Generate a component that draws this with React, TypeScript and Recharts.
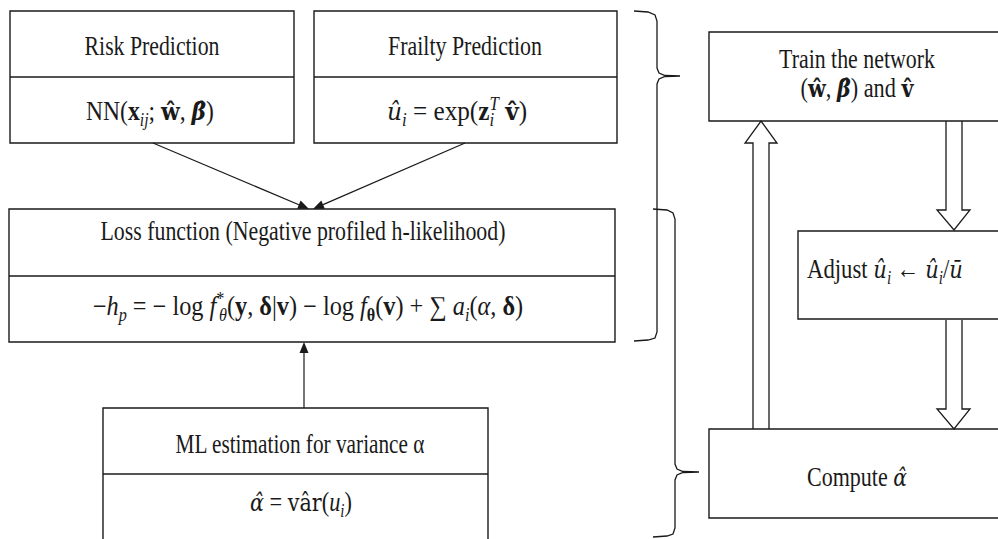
import React, { useLayoutEffect, useRef, useState } from 'react';
import {
  ComposedChart,
  Line,
  XAxis,
  YAxis,
  ReferenceArea,
  ReferenceLine,
  ReferenceDot,
} from 'recharts';

// diagram units = pixels of the 998 x 539 figure, y grows downward
const boxes = [
  { id: 'risk', x1: 10, x2: 294, y1: 11, y2: 143 },
  { id: 'frailty', x1: 314, x2: 617, y1: 11, y2: 143 },
  { id: 'loss', x1: 9, x2: 615, y1: 209, y2: 342 },
  { id: 'ml', x1: 103, x2: 488, y1: 408, y2: 560 },
  { id: 'train', x1: 709, x2: 1010, y1: 32, y2: 121 },
  { id: 'adjust', x1: 798, x2: 1010, y1: 231, y2: 319 },
  { id: 'compute', x1: 709, x2: 1010, y1: 429, y2: 518 },
];

const dividers = [
  { x1: 10, x2: 294, y: 77 },
  { x1: 314, x2: 617, y: 77 },
  { x1: 9, x2: 615, y: 276 },
  { x1: 103, x2: 488, y: 474 },
];

const pointerArrows = [
  { from: { x: 153, y: 143 }, to: { x: 309, y: 209 } },
  { from: { x: 465, y: 143 }, to: { x: 313, y: 209 } },
  { from: { x: 304, y: 408 }, to: { x: 304, y: 342 } },
];

const hollowUp = [
  { x: 753, y: 429 }, { x: 753, y: 143 }, { x: 745, y: 143 }, { x: 761, y: 121 },
  { x: 777, y: 143 }, { x: 769, y: 143 }, { x: 769, y: 429 },
];
const hollowDownTop = [
  { x: 946, y: 121 }, { x: 946, y: 210 }, { x: 937, y: 210 }, { x: 954, y: 230 },
  { x: 970, y: 210 }, { x: 962, y: 210 }, { x: 962, y: 121 },
];
const hollowDownBottom = [
  { x: 946, y: 320 }, { x: 946, y: 409 }, { x: 937, y: 409 }, { x: 954, y: 429 },
  { x: 970, y: 409 }, { x: 962, y: 409 }, { x: 962, y: 320 },
];

const braceTop = [
  { x: 634, y: 11 }, { x: 648, y: 12 }, { x: 655, y: 15 }, { x: 657, y: 21 },
  { x: 657, y: 68 }, { x: 659, y: 73 }, { x: 665, y: 75.5 }, { x: 680, y: 76 },
  { x: 665, y: 76.5 }, { x: 659, y: 79 }, { x: 657, y: 84 },
  { x: 657, y: 332 }, { x: 655, y: 338 }, { x: 648, y: 340 }, { x: 634, y: 341 },
];
const braceBottom = [
  { x: 653, y: 209 }, { x: 667, y: 210 }, { x: 673, y: 213 }, { x: 675, y: 219 },
  { x: 675, y: 464 }, { x: 677, y: 469 }, { x: 683, y: 471.5 }, { x: 699, y: 472 },
  { x: 683, y: 472.5 }, { x: 677, y: 475 }, { x: 675, y: 480 },
  { x: 675, y: 528 }, { x: 673, y: 534 }, { x: 667, y: 536 }, { x: 653, y: 537 },
];

// m = math glyph with an accent, drawn in a font with good mark placement
type Part = { t: string; b?: boolean; i?: boolean; sub?: boolean; sup?: boolean; dx?: number; m?: boolean };

const labelTexts: Part[][] = [
  [{ t: 'Risk Prediction' }],
  [{ t: 'Frailty Prediction' }],
  [{ t: 'NN(' }, { t: 'x', b: true }, { t: 'ij', i: true, sub: true }, { t: '; ' }, { t: 'w\u0302', b: true, m: true }, { t: ', ' }, { t: 'β\u0302', b: true, i: true, m: true }, { t: ')' }],
  [{ t: 'u\u0302', i: true, m: true }, { t: 'i', i: true, sub: true }, { t: ' = exp(' }, { t: 'z', b: true }, { t: 'i', i: true, sub: true }, { t: 'T', i: true, sup: true, dx: -5 }, { t: ' ' }, { t: 'v\u0302', b: true, m: true }, { t: ')' }],
  [{ t: 'Loss function (Negative profiled h-likelihood)' }],
  [
    { t: '\u2212' }, { t: 'h', i: true }, { t: 'p', i: true, sub: true }, { t: ' = \u2212 log ' }, { t: 'f', i: true },
    { t: '*', sup: true }, { t: 'θ', i: true, sub: true, dx: -6 }, { t: '(' }, { t: 'y', b: true }, { t: ', ' },
    { t: 'δ', b: true }, { t: '|' }, { t: 'v', b: true }, { t: ') \u2212 log ' }, { t: 'f', i: true },
    { t: 'θ', b: true, sub: true }, { t: '(' }, { t: 'v', b: true }, { t: ') + \u2211 ' }, { t: 'a', i: true },
    { t: 'i', i: true, sub: true }, { t: '(' }, { t: 'α', i: true }, { t: ', ' }, { t: 'δ', b: true }, { t: ')' },
  ],
  [{ t: 'ML estimation for variance α' }],
  [{ t: 'α\u0302', i: true, m: true }, { t: ' = ' }, { t: 'va\u0302r', m: true }, { t: '(' }, { t: 'u', i: true }, { t: 'i', i: true, sub: true }, { t: ')' }],
  [{ t: 'Train the network' }],
  [{ t: '(' }, { t: 'w\u0302', b: true, m: true }, { t: ', ' }, { t: 'β\u0302', b: true, i: true, m: true }, { t: ') and ' }, { t: 'v\u0302', b: true, m: true }],
  [{ t: 'Adjust ' }, { t: 'u\u0302', i: true, m: true }, { t: 'i', i: true, sub: true }, { t: ' \u2190 ' }, { t: 'u\u0302', i: true, m: true }, { t: 'i', i: true, sub: true }, { t: '/' }, { t: 'u\u0304', i: true, m: true }],
  [{ t: 'Compute ' }, { t: 'α\u0302', i: true, m: true }],
];

const labelPlaces = [
  { x: 152, y: 55, w: 135, anchor: 'middle' },
  { x: 465, y: 55, w: 154, anchor: 'middle' },
  { x: 150, y: 120, w: 128, anchor: 'middle' },
  { x: 457, y: 120, w: 145, anchor: 'middle' },
  { x: 303, y: 240, w: 405, anchor: 'middle' },
  { x: 308, y: 315, w: 436, anchor: 'middle' },
  { x: 300, y: 453, w: 249, anchor: 'middle' },
  { x: 301, y: 511, w: 102, anchor: 'middle' },
  { x: 857, y: 68, w: 156, anchor: 'middle' },
  { x: 857, y: 97, w: 113, anchor: 'middle' },
  { x: 807, y: 278, w: 156, anchor: 'start' },
  { x: 857, y: 486, w: 100, anchor: 'middle' },
];

const INK = '#1a1a1a';
const SERIF = "'Liberation Serif', 'DejaVu Serif', serif";
const MATH = "'DejaVu Serif', 'Liberation Serif', serif";

function ArrowShape(props: any) {
  const { x1, y1, x2, y2 } = props;
  const ang = Math.atan2(y2 - y1, x2 - x1);
  const L = 11;
  const W = 4.5;
  const bx = x2 - L * Math.cos(ang);
  const by = y2 - L * Math.sin(ang);
  const px = -Math.sin(ang) * W;
  const py = Math.cos(ang) * W;
  return (
    <g>
      <line x1={x1} y1={y1} x2={bx} y2={by} stroke={INK} strokeWidth={1.2} />
      <polygon points={`${x2},${y2} ${bx + px},${by + py} ${bx - px},${by - py}`} fill={INK} />
    </g>
  );
}

function RichText({ cx, cy, parts, w, anchor }: any) {
  const ref = useRef<SVGTextElement>(null);
  const [sx, setSx] = useState(1);
  useLayoutEffect(() => {
    if (ref.current) {
      const n = ref.current.getComputedTextLength();
      if (n > 0) setSx(w / n);
    }
  }, [w]);
  let shift = 0;
  return (
    <text
      ref={ref}
      x={0}
      y={0}
      transform={`translate(${cx},${cy}) scale(${sx},1)`}
      textAnchor={anchor}
      fontFamily={SERIF}
      fontSize={27}
      fill={INK}
    >
      {parts.map((p: Part, k: number) => {
        const target = p.sub ? 6 : p.sup ? -10 : 0;
        const dy = target - shift;
        shift = target;
        return (
          <tspan
            key={k}
            dy={dy || undefined}
            dx={p.dx}
            fontFamily={p.m ? MATH : undefined}
            fontSize={p.sub || p.sup ? 18 : p.m ? 25 : undefined}
            fontWeight={p.b ? 'bold' : undefined}
            fontStyle={p.i ? 'italic' : undefined}
          >
            {p.t}
          </tspan>
        );
      })}
    </text>
  );
}

const polyLines = [hollowUp, hollowDownTop, hollowDownBottom, braceTop, braceBottom];

export default function App() {
  return (
    <div style={{ position: 'absolute', left: 0, top: 0, width: 998, height: 539, background: '#fff' }}>
      <ComposedChart width={998} height={539} margin={{ top: 0, right: 0, bottom: 0, left: 0 }}>
        <XAxis type="number" dataKey="x" domain={[0, 998]} hide allowDataOverflow />
        <YAxis type="number" dataKey="y" domain={[0, 539]} reversed hide allowDataOverflow />
        {boxes.map((b) => (
          <ReferenceArea
            key={b.id}
            x1={b.x1}
            x2={b.x2}
            y1={b.y1}
            y2={b.y2}
            fill="none"
            fillOpacity={0}
            stroke={INK}
            strokeWidth={1.4}
            ifOverflow="hidden"
          />
        ))}
        {dividers.map((d, k) => (
          <ReferenceLine
            key={`d${k}`}
            segment={[{ x: d.x1, y: d.y }, { x: d.x2, y: d.y }]}
            stroke={INK}
            strokeWidth={1.4}
          />
        ))}
        {pointerArrows.map((a, k) => (
          <ReferenceLine key={`a${k}`} segment={[a.from, a.to]} shape={ArrowShape} />
        ))}
        {polyLines.map((pts, k) => (
          <Line
            key={`p${k}`}
            data={pts}
            dataKey="y"
            type="linear"
            stroke={INK}
            strokeWidth={1.3}
            dot={false}
            activeDot={false}
            legendType="none"
            isAnimationActive={false}
          />
        ))}
        {labelTexts.map((parts, k) => (
          <ReferenceDot
            key={`t${k}`}
            x={labelPlaces[k].x}
            y={labelPlaces[k].y}
            r={0}
            shape={(p: any) => (
              <RichText cx={p.cx} cy={p.cy} parts={parts} w={labelPlaces[k].w} anchor={labelPlaces[k].anchor} />
            )}
          />
        ))}
      </ComposedChart>
    </div>
  );
}
